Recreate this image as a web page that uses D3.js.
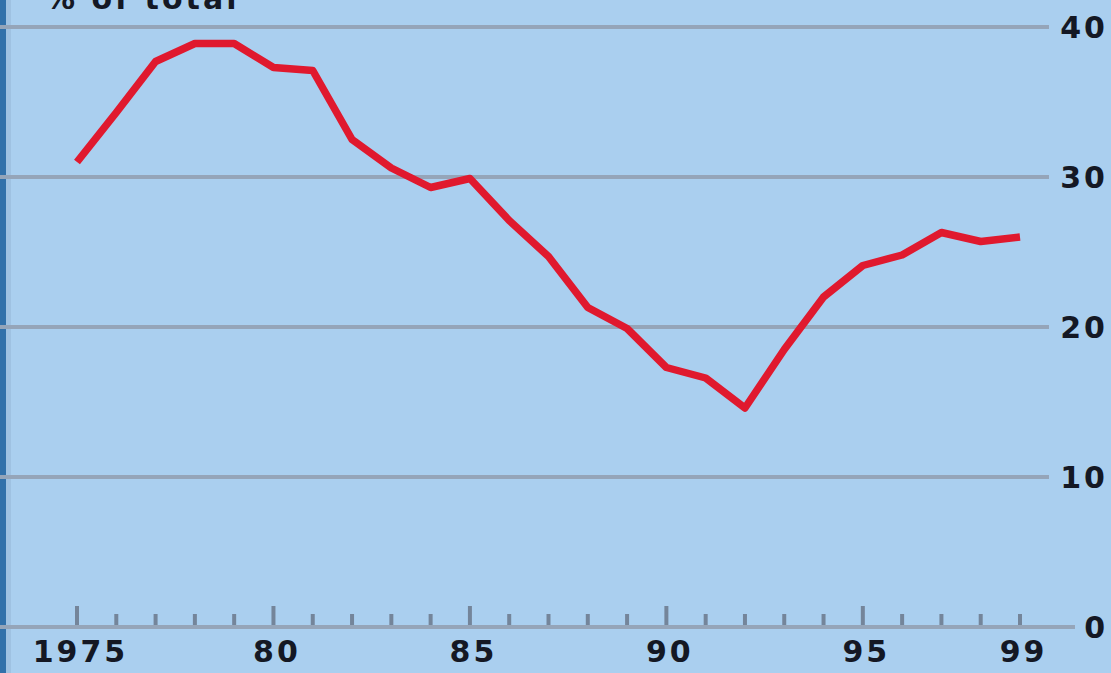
<!DOCTYPE html>
<html>
<head>
<meta charset="utf-8">
<script src="https://cdn.jsdelivr.net/npm/d3@7"></script>
<style>
  html, body { margin: 0; padding: 0; background: #aacfef; }
  svg { display: block; }
  text { font-family: "DejaVu Sans", sans-serif; fill: #141824; }
</style>
</head>
<body>
<svg id="chart" width="1111" height="673"></svg>
<script>
const years = [1975,1976,1977,1978,1979,1980,1981,1982,1983,1984,1985,1986,1987,1988,1989,1990,1991,1992,1993,1994,1995,1996,1997,1998,1999];
const share = [31.0,34.3,37.7,38.9,38.9,37.3,37.1,32.5,30.6,29.3,29.9,27.1,24.7,21.3,19.9,17.3,16.6,14.6,18.5,22.0,24.1,24.8,26.3,25.7,26.0];
const yTicks = [0,10,20,30,40];
const xLabelYears = [1975,1980,1985,1990,1995,1999];
const xLabels = ["1975","80","85","90","95","99"];
const title = "% of total";

const W = 1111, H = 673;
const svg = d3.select("#chart");
const x = d3.scaleLinear().domain([1975,1999]).range([77,1020]);
const y = d3.scaleLinear().domain([0,40]).range([627,27]);

svg.append("rect").attr("width",W).attr("height",H).attr("fill","#aacfef");
// left edge bars
svg.append("rect").attr("x",0).attr("y",0).attr("width",6).attr("height",H).attr("fill","#3271aa");
svg.append("rect").attr("x",6).attr("y",0).attr("width",5).attr("height",H).attr("fill","#9fc2e2");

// gridlines
svg.append("g").selectAll("line").data(yTicks.filter(d=>d>0)).join("line")
  .attr("x1",0).attr("x2",1049)
  .attr("y1",d=>y(d)).attr("y2",d=>y(d))
  .attr("stroke","#95a5b9").attr("stroke-width",4);

// baseline
svg.append("line").attr("x1",0).attr("x2",1075).attr("y1",y(0)).attr("y2",y(0))
  .attr("stroke","#95a5b9").attr("stroke-width",4);

// ticks
const allYears = d3.range(1975,2000);
svg.append("g").selectAll("line").data(allYears).join("line")
  .attr("x1",d=>x(d)).attr("x2",d=>x(d))
  .attr("y1",y(0)-2).attr("y2",d=> (d%5===0) ? y(0)-21 : y(0)-13)
  .attr("stroke","#74859a").attr("stroke-width",4);

// y labels (right)
const ls = 3;
svg.append("g").selectAll("text").data(yTicks).join("text")
  .attr("x",1105+ls).attr("y",d=>y(d))
  .attr("text-anchor","end").attr("dominant-baseline","central")
  .attr("font-size",30).attr("font-weight","bold").attr("letter-spacing",ls)
  .text(d=>d);

// x labels
svg.append("g").selectAll("text").data(xLabelYears).join("text")
  .attr("x",d=>x(d)+ls/2+2).attr("y",662)
  .attr("text-anchor","middle")
  .attr("font-size",30).attr("font-weight","bold").attr("letter-spacing",ls)
  .text((d,i)=>xLabels[i]);

// title
svg.append("text").attr("x",45).attr("y",9)
  .attr("font-size",30).attr("font-weight","bold").attr("letter-spacing",ls).text(title);

// line
const line = d3.line().x((d,i)=>x(years[i])).y(d=>y(d));
svg.append("path").datum(share).attr("d",line)
  .attr("fill","none").attr("stroke","#e0192e").attr("stroke-width",7.5)
  .attr("stroke-linejoin","round").attr("stroke-linecap","butt");
</script>
</body>
</html>
